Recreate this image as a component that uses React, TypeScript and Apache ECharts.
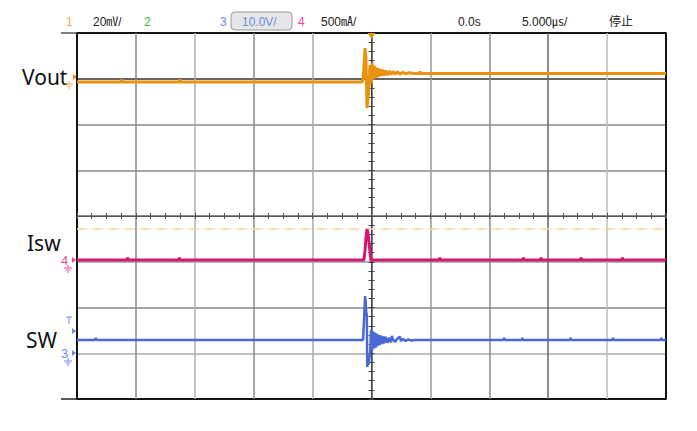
import React, { useEffect, useRef } from "react";
import * as echarts from "echarts";

// Time axis in microseconds (5 µs/div, 10 divisions), vertical in divisions (8 divisions)
const timeRange = [-25, 25];
const timePerDiv = 5;
const divRange = [-4, 4];

const channelNames = ["Vout", "Isw", "SW"];
const headerTexts = ["1", "20㎷/", "2", "3", "10.0V/", "4", "500㎃/", "0.0s", "5.000㎲/", "停止"];

// Traces: [time µs, divisions]
const voutTrace: number[][] = [
  [-25, 2.93], [-21.25, 2.93], [-21.2, 2.99], [-21.15, 2.93], [-16.3, 2.93], [-16.25, 2.99], [-16.2, 2.93],
  [-0.8, 2.93], [-0.7, 3.0], [-0.55, 3.67], [-0.47, 3.45],
  [-0.38, 2.36], [-0.3, 2.55], [-0.22, 2.8], [-0.12, 3.3], [-0.04, 2.9], [0.05, 3.35], [0.14, 2.98],
  [0.24, 3.28], [0.34, 3.02], [0.45, 3.24], [0.56, 3.04], [0.68, 3.22], [0.8, 3.06], [0.93, 3.2],
  [1.06, 3.07], [1.2, 3.18], [1.35, 3.08], [1.5, 3.17], [1.66, 3.09], [1.82, 3.16], [2.0, 3.1],
  [2.2, 3.15], [2.4, 3.1], [2.65, 3.14], [2.9, 3.11], [3.2, 3.13], [3.6, 3.115], [4.05, 3.115],
  [4.1, 3.16], [4.15, 3.115], [25, 3.115]
];

const iswTrace: number[][] = [
  [-25, -0.96], [-20.75, -0.96], [-20.7, -0.91], [-20.65, -0.96], [-16.35, -0.96], [-16.3, -0.91],
  [-16.25, -0.96], [-0.64, -0.96], [-0.55, -0.75], [-0.45, -0.42], [-0.38, -0.29], [-0.3, -0.36],
  [-0.2, -0.6], [-0.1, -0.86], [-0.03, -0.99], [0.05, -0.96], [5.75, -0.96], [5.8, -0.91],
  [5.85, -0.96], [12.85, -0.96], [12.9, -0.91], [12.95, -0.96], [14.35, -0.96], [14.4, -0.91],
  [14.45, -0.96], [17.75, -0.96], [17.8, -0.91], [17.85, -0.96], [21.25, -0.96], [21.3, -0.91],
  [21.35, -0.96], [25, -0.96]
];

const swTrace: number[][] = [
  [-25, -2.71], [-23.45, -2.71], [-23.4, -2.66], [-23.35, -2.71], [-0.72, -2.71], [-0.62, -2.2],
  [-0.55, -1.75], [-0.5, -1.85], [-0.45, -2.1], [-0.4, -2.15], [-0.36, -3.3], [-0.3, -3.05],
  [-0.24, -3.25], [-0.18, -3.1], [-0.1, -2.95], [-0.04, -2.49], [0.04, -2.95], [0.12, -2.52],
  [0.2, -2.9], [0.28, -2.55], [0.36, -2.88], [0.44, -2.57], [0.52, -2.84], [0.6, -2.6],
  [0.7, -2.82], [0.8, -2.61], [0.9, -2.8], [1.0, -2.63], [1.1, -2.78], [1.2, -2.64], [1.35, -2.77],
  [1.5, -2.66], [1.65, -2.76], [1.74, -2.62], [1.8, -2.69], [2.0, -2.75], [2.2, -2.68], [2.42, -2.64],
  [2.5, -2.73], [2.7, -2.69], [2.9, -2.73], [3.1, -2.7], [3.4, -2.72], [3.7, -2.71],
  [11.2, -2.71], [11.25, -2.66], [11.3, -2.71], [12.75, -2.71], [12.8, -2.66], [12.85, -2.71],
  [16.85, -2.71], [16.9, -2.66], [16.95, -2.71], [20.45, -2.71], [20.5, -2.66], [20.55, -2.71],
  [24.55, -2.71], [24.6, -2.66], [24.65, -2.71], [25, -2.71]
];

const iswTriggerLevel = -0.285;

const COLORS = {
  vout: "#E8920F",
  isw: "#D5176E",
  sw: "#4A68D6",
  ch1: "#F3A94A",
  ch2: "#3DBB3D",
  ch3: "#7388E4",
  ch4: "#E8489A",
};

const GRID = { left: 77, right: 31, top: 33, bottom: 32 };
const W = 697;
const H = 431;

function ground(cx: number, y: number, color: string) {
  return [
    { type: "line", shape: { x1: cx, y1: y, x2: cx, y2: y + 3 }, style: { stroke: color, lineWidth: 1 } },
    { type: "line", shape: { x1: cx - 4, y1: y + 3, x2: cx + 4, y2: y + 3 }, style: { stroke: color, lineWidth: 1 } },
    { type: "line", shape: { x1: cx - 2.5, y1: y + 5, x2: cx + 2.5, y2: y + 5 }, style: { stroke: color, lineWidth: 1 } },
    { type: "line", shape: { x1: cx - 1, y1: y + 7, x2: cx + 1, y2: y + 7 }, style: { stroke: color, lineWidth: 1 } },
  ];
}

function arrow(x: number, y: number, color: string) {
  return {
    type: "polygon",
    shape: { points: [[x, y - 3], [x + 4, y], [x, y + 3]] },
    style: { fill: color },
  };
}

function headerText(x: number, text: string, color: string, size = 12) {
  return {
    type: "text",
    x,
    y: 22,
    style: {
      text,
      fill: color,
      font: `${size}px "Liberation Sans Narrow", "Liberation Sans", "Noto Sans CJK SC", sans-serif`,
      verticalAlign: "middle",
    },
  };
}

function labelText(x: number, y: number, text: string) {
  return {
    type: "text",
    x,
    y,
    style: {
      text,
      fill: "#111",
      font: `21px "Noto Sans", sans-serif`,
      verticalAlign: "middle",
    },
  };
}

export default function App() {
  const ref = useRef<HTMLDivElement>(null);

  useEffect(() => {
    if (!ref.current) return;
    const chart = echarts.init(ref.current, undefined, { renderer: "svg" });

    const plotRight = W - GRID.right;
    const plotBottom = H - GRID.bottom;
    const trigX = GRID.left + (plotRight - GRID.left) / 2;

    const xSplitColors = ["#000", "#8a8a8a", "#b0b0b0", "#8a8a8a", "#a8a8a8", "#555", "#999", "#8a8a8a", "#666", "#bdbdbd", "#000"];
    const ySplitColors = ["#000", "#aaa", "#888", "#999", "#666", "#888", "#8a8a8a", "#333", "#000"];

    const centerAxisX = (inside: boolean) => ({
      type: "value",
      gridIndex: 0,
      min: timeRange[0],
      max: timeRange[1],
      interval: timePerDiv,
      position: "bottom",
      axisLine: { show: true, onZero: true, onZeroAxisIndex: 0, lineStyle: { color: "#555", width: 1 } },
      axisTick: { show: true, inside, length: 3, lineStyle: { color: "#555" } },
      minorTick: { show: true, splitNumber: 4, length: 3, lineStyle: { color: "#555" } },
      axisLabel: { show: false },
      splitLine: { show: false },
    });
    const centerAxisY = (inside: boolean) => ({
      type: "value",
      gridIndex: 0,
      min: divRange[0],
      max: divRange[1],
      interval: 1,
      position: "left",
      axisLine: { show: true, onZero: true, onZeroAxisIndex: 0, lineStyle: { color: "#444", width: 1 } },
      axisTick: { show: true, inside, length: 3, lineStyle: { color: "#444" } },
      minorTick: { show: true, splitNumber: 5, length: 3, lineStyle: { color: "#444" } },
      axisLabel: { show: false },
      splitLine: { show: false },
    });

    const graphics: any[] = [
      { type: "line", shape: { x1: 61, y1: GRID.top, x2: GRID.left, y2: GRID.top }, style: { stroke: "#555", lineWidth: 1.5 } },
      { type: "line", shape: { x1: 61, y1: plotBottom, x2: GRID.left, y2: plotBottom }, style: { stroke: "#222", lineWidth: 1.5 } },
      {
        type: "polygon",
        shape: { points: [[trigX - 4, GRID.top], [trigX + 4, GRID.top], [trigX, GRID.top + 6]] },
        style: { fill: COLORS.vout },
        z: 100,
      },
      headerText(66, headerTexts[0], COLORS.ch1),
      headerText(93, headerTexts[1], "#222"),
      headerText(144, headerTexts[2], COLORS.ch2),
      headerText(220, headerTexts[3], COLORS.ch3),
      {
        type: "rect",
        shape: { x: 231, y: 12, width: 61, height: 18, r: 4 },
        style: { fill: "#e6e6e6", stroke: "#9a9a9a", lineWidth: 1 },
      },
      headerText(242, headerTexts[4], COLORS.ch3),
      headerText(298, headerTexts[5], COLORS.ch4),
      headerText(321, headerTexts[6], "#222"),
      headerText(458, headerTexts[7], "#222"),
      headerText(522, headerTexts[8], "#222"),
      headerText(609, headerTexts[9], "#222"),
      labelText(22, 77, channelNames[0]),
      labelText(27, 243, channelNames[1]),
      labelText(26, 340, channelNames[2]),
      arrow(73, 77, COLORS.vout),
      ...ground(69, 81, COLORS.ch1),
      {
        type: "text", x: 61, y: 260,
        style: { text: "4", fill: COLORS.ch4, font: `13px "Liberation Sans", sans-serif`, verticalAlign: "middle" },
      },
      arrow(72, 260, COLORS.ch4),
      ...ground(68, 265, COLORS.ch4),
      { type: "line", shape: { x1: 66, y1: 317, x2: 72, y2: 317 }, style: { stroke: COLORS.ch3, lineWidth: 1 } },
      { type: "line", shape: { x1: 69, y1: 317, x2: 69, y2: 324 }, style: { stroke: COLORS.ch3, lineWidth: 1 } },
      arrow(72, 331, COLORS.ch3),
      {
        type: "text", x: 61, y: 353,
        style: { text: "3", fill: COLORS.ch3, font: `13px "Liberation Sans", sans-serif`, verticalAlign: "middle" },
      },
      arrow(72, 353, COLORS.ch3),
      ...ground(68, 358, COLORS.ch3),
    ];

    chart.setOption({
      animation: false,
      backgroundColor: "#fff",
      grid: {
        left: GRID.left,
        right: GRID.right,
        top: GRID.top,
        bottom: GRID.bottom,
        show: true,
        borderColor: "#111",
        borderWidth: 1.5,
        backgroundColor: "transparent",
      },
      xAxis: [
        {
          type: "value",
          min: timeRange[0],
          max: timeRange[1],
          interval: timePerDiv,
          axisLine: { show: false, onZero: false },
          axisTick: { show: false },
          axisLabel: { show: false },
          splitLine: { show: true, lineStyle: { color: xSplitColors, width: 1.5 } },
        },
        centerAxisX(false),
        centerAxisX(true),
      ],
      yAxis: [
        {
          type: "value",
          min: divRange[0],
          max: divRange[1],
          interval: 1,
          axisLine: { show: false, onZero: false },
          axisTick: { show: false },
          axisLabel: { show: false },
          splitLine: { show: true, lineStyle: { color: ySplitColors, width: 1.5 } },
        },
        centerAxisY(false),
        centerAxisY(true),
      ],
      series: [
        {
          name: channelNames[0],
          type: "line",
          xAxisIndex: 0,
          yAxisIndex: 0,
          data: voutTrace,
          symbol: "none",
          lineStyle: { color: COLORS.vout, width: 3 },
          z: 5,
        },
        {
          name: channelNames[1],
          type: "line",
          xAxisIndex: 0,
          yAxisIndex: 0,
          data: iswTrace,
          symbol: "none",
          lineStyle: { color: COLORS.isw, width: 3 },
          z: 5,
          markLine: {
            silent: true,
            symbol: "none",
            label: { show: false },
            lineStyle: { color: "#FDD3A3", type: [10, 6], width: 1.5 },
            data: [{ yAxis: iswTriggerLevel }],
          },
        },
        {
          name: channelNames[2],
          type: "line",
          xAxisIndex: 0,
          yAxisIndex: 0,
          data: swTrace,
          symbol: "none",
          lineStyle: { color: COLORS.sw, width: 2.5 },
          z: 5,
        },
      ],
      graphic: graphics,
    });

    return () => chart.dispose();
  }, []);

  return <div ref={ref} style={{ width: W, height: H, position: "absolute", left: 0, top: 0 }} />;
}
